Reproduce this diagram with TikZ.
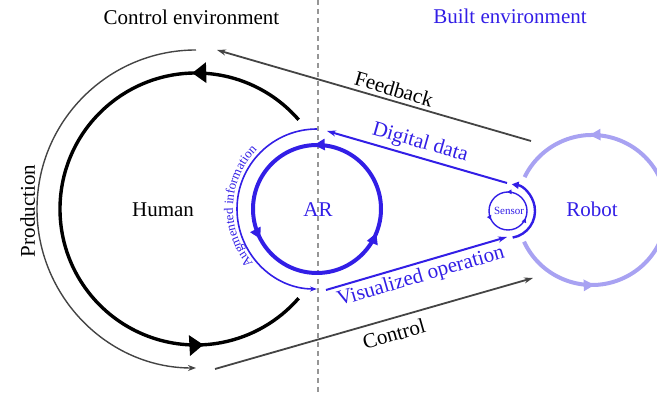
\documentclass[tikz,border=0pt]{standalone}
\usepackage{fontspec}
\setmainfont{Liberation Serif}
\usetikzlibrary{arrows.meta,decorations.markings,decorations.text,calc}
\definecolor{arblue}{RGB}{50,30,230}
\definecolor{robotc}{RGB}{168,162,242}
\definecolor{lgray}{RGB}{68,68,68}
\definecolor{dgray}{RGB}{150,150,150}
\begin{document}
\begin{tikzpicture}[x=1pt,y=1pt,
  lbl/.style={font=\fontsize{21}{21}\selectfont, inner sep=0pt},
  bluelbl/.style={lbl, text=arblue},
  grayline/.style={draw=lgray, line width=1.8pt, -{Stealth[length=9pt,width=6pt]}},
  blueline/.style={draw=arblue, line width=2pt, -{Stealth[length=9pt,width=6pt]}},
  dashline/.style={draw=dgray, line width=1.1pt, dash pattern=on 5pt off 4pt},
  bigtri/.style={-{Triangle[length=14pt,width=20pt]}},
]
\useasboundingbox (0,0) rectangle (657,395);

% centres and connector ends
\coordinate (hum) at (196,186);
\coordinate (ar) at (317,186);
\coordinate (rob) at (592,185);
\coordinate (sen) at (508,184);
\coordinate (dtop) at (318,395);
\coordinate (dbot) at (318,0);
\coordinate (fbS) at (531,254);
\coordinate (fbE) at (217,345);
\coordinate (ctS) at (215,26);
\coordinate (ctE) at (533,117);
\coordinate (ddS) at (507,212);
\coordinate (ddE) at (327,264);
\coordinate (voS) at (326,105);
\coordinate (voE) at (507,158);

% divider
\draw[dashline] (dtop) -- (dbot);

% Human loop
\draw[black, line width=3.4pt, postaction={decorate},
  decoration={markings,
    mark=at position 0.182 with {\arrow{Triangle[length=14pt,width=20pt]}},
    mark=at position 0.835 with {\arrow{Triangle[length=14pt,width=20pt]}}}]
  ($(hum)+(41:136)$) arc[start angle=41,end angle=319,radius=136];

% Production
\draw[draw=lgray, line width=1.4pt, -{Stealth[length=8pt,width=6pt]}]
  ($(hum)+(90:159)$) arc[start angle=90,end angle=270,radius=159];

% Feedback and Control
\draw[grayline] (fbS) -- (fbE);
\draw[grayline] (ctS) -- (ctE);

% AR loop
\draw[arblue, line width=4pt, postaction={decorate},
  decoration={markings,
    mark=at position 0.258 with {\arrow{Triangle[length=11pt,width=11pt]}},
    mark=at position 0.578 with {\arrow{Triangle[length=11pt,width=11pt]}},
    mark=at position 0.939 with {\arrow{Triangle[length=11pt,width=11pt]}}}]
  ($(ar)+(0:64)$) arc[start angle=0,end angle=360,radius=64];

% Augmented information
\draw[arblue, line width=1.6pt, -{Stealth[length=7pt,width=5pt]}]
  ($(ar)+(90:80)$) arc[start angle=90,end angle=270,radius=80];
\path[decorate, decoration={text along path, text align=center,
    text={|\fontsize{13}{13}\selectfont\color{arblue}|Augmented information}}]
  ($(ar)+(240:84)$) arc[start angle=240,end angle=116,radius=84];

% Digital data / Visualized operation
\draw[blueline] (ddS) -- (ddE);
\draw[blueline] (voS) -- (voE);

% Sensor
\draw[arblue, line width=1.4pt, postaction={decorate},
  decoration={markings,
    mark=at position 0.258 with {\arrow{Triangle[length=4.5pt,width=4.5pt]}},
    mark=at position 0.578 with {\arrow{Triangle[length=4.5pt,width=4.5pt]}},
    mark=at position 0.939 with {\arrow{Triangle[length=4.5pt,width=4.5pt]}}}]
  ($(sen)+(0:19)$) arc[start angle=0,end angle=360,radius=19];
\draw[arblue, line width=2.4pt, -{Triangle[length=7pt,width=7pt]}]
  ($(sen)+(-80:27)$) arc[start angle=-80,end angle=82,radius=27];

% Robot loop
\draw[robotc, line width=4pt, postaction={decorate},
  decoration={markings,
    mark=at position 0.217 with {\arrow{Triangle[length=11pt,width=11pt]}},
    mark=at position 0.799 with {\arrow{Triangle[length=11pt,width=11pt]}}}]
  ($(rob)+(-155:75)$) arc[start angle=-155,end angle=154,radius=75];

% labels
\node[lbl, anchor=base] (tCE) at (191.5,370) {Control environment};
\node[bluelbl, anchor=base] (tBE) at (510,371) {Built environment};
\node[lbl, anchor=base] (tHum) at (163,178) {Human};
\node[bluelbl, anchor=base] (tAR) at (318,178) {AR};
\node[bluelbl, anchor=base] (tRob) at (592,178) {Robot};
\node[text=arblue, inner sep=0pt, anchor=base, font=\fontsize{11}{11}\selectfont] (tSen) at (509,180.5) {Sensor};
\node[lbl, anchor=base, rotate=90] (tProd) at (35,184) {Production};
\node[lbl, rotate=-16.2] (tFb) at (394,306) {Feedback};
\node[bluelbl, rotate=-16] (tDd) at (420,252) {Digital data};
\node[bluelbl, rotate=16.2] (tVo) at (421,118) {Visualized operation};
\node[lbl, rotate=16] (tCt) at (394,61) {Control};
\end{tikzpicture}
\end{document}
